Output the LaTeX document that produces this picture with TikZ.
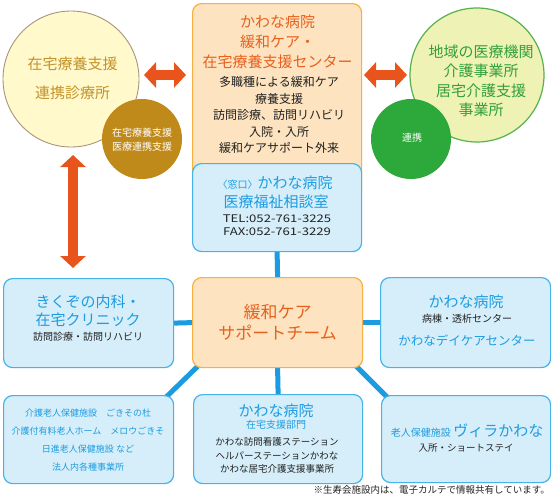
\documentclass[tikz,border=0pt]{standalone}
\usepackage{fontspec}
\setmainfont{Noto Sans CJK JP}
\newfontfamily\telfont[FakeStretch=1.25]{Noto Sans CJK JP}
\usetikzlibrary{arrows.meta,backgrounds}
\definecolor{orA}{HTML}{E8541C}
\definecolor{orT}{HTML}{E8601E}
\definecolor{orF}{HTML}{FDE3BF}
\definecolor{orB}{HTML}{F6B043}
\definecolor{blF}{HTML}{D5EEFA}
\definecolor{blB}{HTML}{45B3EA}
\definecolor{blT}{HTML}{1E9CE0}
\definecolor{blL}{HTML}{1A9BE2}
\definecolor{goldT}{HTML}{C4922A}
\definecolor{ycF}{HTML}{FFF9CC}
\definecolor{ycB}{HTML}{A8947A}
\definecolor{brownC}{HTML}{C08A1A}
\definecolor{gcF}{HTML}{EEF2B5}
\definecolor{gcB}{HTML}{55B24E}
\definecolor{gcT}{HTML}{32A03A}
\definecolor{greenC}{HTML}{2DA83A}
\definecolor{darkT}{HTML}{222222}
\begin{document}
\begin{tikzpicture}[x=1pt,y=-1pt,
  box/.style={draw, line width=1.2pt, rounded corners=9pt, inner sep=0pt, anchor=north west},
  obox/.style={box, draw=orB, fill=orF},
  bbox/.style={box, draw=blB, fill=blF},
  txt/.style={align=center, inner sep=0pt},
  link/.style={draw=blL, line width=5pt},
  bigarr/.style={draw=orA, line width=10pt, {Triangle[width=25pt,length=12pt]}-{Triangle[width=25pt,length=12pt]}},
  fs/.style n args={2}{font=\fontsize{#1}{#2}\selectfont}
]
\useasboundingbox (0,0) rectangle (551,501);

% circles
\node[circle, draw=ycB, line width=0.9pt, fill=ycF, minimum size=136pt, inner sep=0pt] (lc) at (71,79) {};
\node[circle, fill=brownC, minimum size=80pt, inner sep=0pt] (bc) at (142,139) {};
\node[circle, draw=gcB, line width=1.2pt, fill=gcF, minimum size=134pt, inner sep=0pt] (rc) at (477,75) {};
\node[circle, fill=greenC, minimum size=80pt, inner sep=0pt] (gc) at (411,139) {};

% boxes
\node[obox, minimum width=169pt, minimum height=197pt] (top) at (192,3) {};
\node[bbox, minimum width=169pt, minimum height=88pt] (desk) at (192,163) {};
\node[bbox, minimum width=170pt, minimum height=89pt] (kiku) at (3,278) {};
\node[obox, minimum width=170pt, minimum height=90pt] (team) at (192,277) {};
\node[bbox, minimum width=170pt, minimum height=90pt] (hosp) at (380,277) {};
\node[bbox, minimum width=170pt, minimum height=88pt] (care) at (3,395) {};
\node[bbox, minimum width=169pt, minimum height=89pt] (home) at (193,394) {};
\node[bbox, minimum width=169pt, minimum height=87pt] (villa) at (381,395) {};

% texts
\node[txt, text=goldT, fs={15}{29}] (lct) at (72.5,78.5) {在宅療養支援\\連携診療所};
\node[txt, text=white, fs={10}{14}] (bct) at (142,140) {在宅療養支援\\医療連携支援};
\node[txt, text=gcT, fs={15}{19.5}] (rct) at (481,81) {地域の医療機関\\介護事業所\\居宅介護支援\\事業所};
\node[txt, text=white, fs={10}{12}] (gct) at (412,138) {連携};

\node[txt, text=orT, fs={15}{20}] (topt) at (277.5,42) {かわな病院\\緩和ケア・\\在宅療養支援センター};
\node[txt, text=darkT, fs={12}{16.5}] (topb) at (279,115) {多職種による緩和ケア\\療養支援\\訪問診療、訪問リハビリ\\入院・入所\\緩和ケアサポート外来};

\node[txt, text=blT, fs={15}{18}] (desk1) at (275,183) {{\fontsize{10}{10}\selectfont〈窓口〉}かわな病院};
\node[txt, text=blT, fs={15}{18}] (desk2) at (276,202) {医療福祉相談室};
\node[txt, text=darkT, font=\telfont\fontsize{10.5}{13}\selectfont] (tel) at (277,225.5) {TEL:052-761-3225\\FAX:052-761-3229};

\node[txt, text=blT, fs={15}{18}] (kiku1) at (88,311) {きくぞの内科・\\在宅クリニック};
\node[txt, text=darkT, fs={10}{12}] (kiku2) at (88,337) {訪問診療・訪問リハビリ};

\node[txt, text=orT, fs={17}{21}] (teamt) at (277.5,322.5) {緩和ケア\\サポートチーム};

\node[txt, text=blT, fs={15}{18}] (hosp1) at (466,302) {かわな病院};
\node[txt, text=darkT, fs={10}{12}] (hosp2) at (467,319) {病棟・透析センター};
\node[txt, text=blT, fs={12.5}{15}] (hosp3) at (467,341) {かわなデイケアセンター};

\node[txt, text=blT, fs={9}{18}] (caret) at (88,440) {介護老人保健施設　ごきその杜\\介護付有料老人ホーム　メロウごきそ\\日進老人保健施設 など\\法人内各種事業所};

\node[txt, text=blT, fs={15}{18}] (home1) at (276,411) {かわな病院};
\node[txt, text=blT, fs={10}{12}] (home2) at (276,425) {在宅支援部門};
\node[txt, text=darkT, fs={9.5}{13.5}] (home3) at (277,455.5) {かわな訪問看護ステーション\\ヘルパーステーションかわな\\かわな居宅介護支援事業所};

\node[txt, text=blT, fs={15}{18}] (villa1) at (467,431) {{\fontsize{10}{10}\selectfont 老人保健施設}\,ヴィラかわな};
\node[txt, text=darkT, fs={9.5}{12}] (villa2) at (466,448) {入所・ショートステイ};

\node[txt, text=darkT, fs={9.5}{12}, anchor=east] (note) at (550,490) {※生寿会施設内は、電子カルテで情報共有しています。};

% orange arrows
\coordinate (la1) at (144,75);
\coordinate (la2) at (186,75);
\coordinate (ra1) at (364,75);
\coordinate (ra2) at (407,75);
\coordinate (va1) at (73,155);
\coordinate (va2) at (73,268);
\draw[bigarr] (la1) -- (la2);
\draw[bigarr] (ra1) -- (ra2);
\draw[bigarr] (va1) -- (va2);

% blue connectors
\begin{pgfonlayer}{background}
\draw[link] (desk.south) -- (team.north);
\draw[link] (kiku.east) -- (team.west);
\draw[link] (team.east) -- (hosp.west);
\draw[link] (team.south) -- (home.north);
\draw[link] ([shift={(11,-7)}]team.south west) -- ([shift={(-9,3)}]care.north east);
\draw[link] ([shift={(-12,-7)}]team.south east) -- ([shift={(7,3)}]villa.north west);
\end{pgfonlayer}
\end{tikzpicture}
\end{document}
